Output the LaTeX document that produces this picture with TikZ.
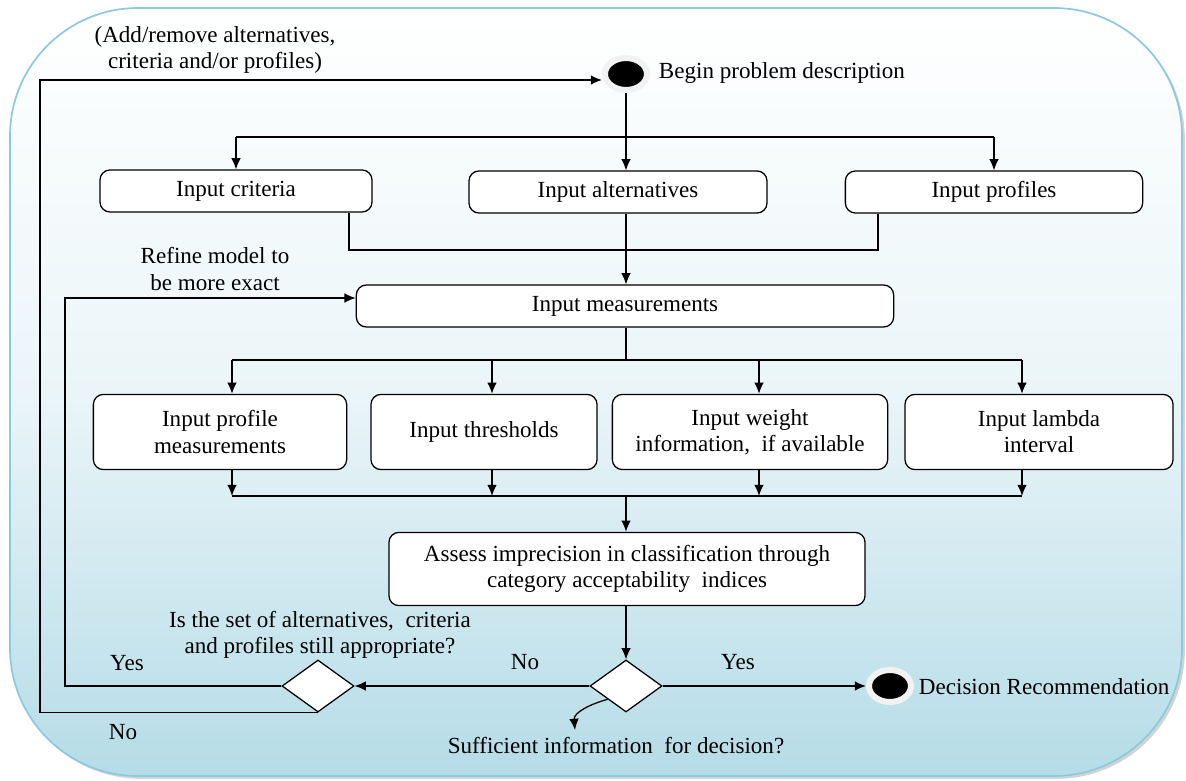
\documentclass[tikz,border=0pt]{standalone}
\usepackage{fontspec}
\setmainfont{Liberation Serif}
\newfontfamily\diagfont{Liberation Serif}
\usetikzlibrary{arrows.meta,shapes.geometric,shadows}
\definecolor{bgblue}{RGB}{181,220,231}
\definecolor{bgedge}{RGB}{140,200,222}

\begin{document}
\begin{tikzpicture}[x=0.025cm, y=-0.025cm, font=\diagfont\fontsize{16.4}{18.6}\selectfont]
	\tikzstyle{comp} = [
		rectangle, rounded corners=0.25cm, draw=black, line width=0.9pt, fill=white,
		align=center, minimum height=1.05cm
	]
	\tikzstyle{comp_tall} = [
		comp, minimum height=1.88cm
	]
	\tikzstyle{decision} = [
		diamond, draw=black, line width=0.9pt, fill=white,
		minimum width=1.8cm, minimum height=1.3cm, inner sep=0pt
	]
	\tikzstyle{terminal} = [
		ellipse, fill=black, draw=gray!10, line width=4.3pt,
		minimum width=1.05cm, minimum height=0.8cm, inner sep=0pt,
		drop shadow={shadow xshift=0.6pt, shadow yshift=-1.2pt, opacity=0.35}
	]
	\tikzstyle{caption} = [
		align=center
	]
	\tikzstyle{wire} = [
		line width=0.9pt
	]
	\tikzstyle{conn} = [
		wire, -{Latex[length=2.8mm, width=2.4mm]}
	]

	% Background
	\useasboundingbox (0,0) rectangle (1186,781);
	\draw[bgedge, line width=1.2pt, top color=white, bottom color=bgblue, middle color=bgblue!28,
		rounded corners=3.2cm, drop shadow={shadow xshift=2pt, shadow yshift=-2pt, opacity=0.35}]
		(10,8) rectangle (1182,776);

	% Start / end
	\node (begin) [terminal] at (626,74) {};
	\node (beginlbl) [anchor=west] at (654,73) {Begin problem description};
	\node (final) [terminal] at (890,686) {};
	\node (finallbl) [anchor=west] at (914,687) {Decision Recommendation};

	% First inputs
	\node (crit) [comp, minimum width=6.8cm]  at (236,191) {Input criteria};
	\node (alt)  [comp, minimum width=7.45cm] at (618,192) {Input alternatives};
	\node (prof) [comp, minimum width=7.43cm] at (994,192) {Input profiles};
	\node (meas) [comp, minimum width=13.43cm] at (625,306) {Input measurements};

	% Measurement inputs
	\node (pm)  [comp_tall, minimum width=6.33cm] at (220,432) {Input profile\\measurements};
	\node (thr) [comp_tall, minimum width=5.65cm] at (484,432) {Input thresholds};
	\node (wi)  [comp_tall, minimum width=6.88cm] at (750,432) {Input weight\\information,~ if available};
	\node (lam) [comp_tall, minimum width=6.7cm]  at (1039,432) {Input lambda\\interval};

	% Assessment and decisions
	\node (assess) [comp_tall, minimum width=11.9cm, minimum height=1.83cm] at (627,569)
		{Assess imprecision in classification through\\category acceptability~ indices};
	\node (dec2) [decision] at (626,686) {};
	\node (dec1) [decision] at (318,686) {};

	% Labels
	\node (addlbl)    [caption] at (215,50)  {(Add/remove alternatives,\\criteria and/or profiles)};
	\node (refinelbl) [caption] at (215,269) {Refine model to\\be more exact};
	\node (q1lbl)     [caption] at (320,635) {Is the set of alternatives,~ criteria\\and profiles still appropriate?};
	\node (q2lbl)               at (616,746) {Sufficient information~ for decision?};
	\node (yes1lbl) at (127,663) {Yes};
	\node (no1lbl)  at (123,732) {No};
	\node (yes2lbl) at (738,662) {Yes};
	\node (no2lbl)  at (525,662) {No};

	% Helper points
	\coordinate (split1) at (626,137);
	\coordinate (merge1) at (626,250);
	\coordinate (split2) at (626,360);
	\coordinate (merge2) at (626,496);
	\coordinate (critout) at (349,0);
	\coordinate (profout) at (878,0);
	\coordinate (col1) at (232,0);
	\coordinate (col2) at (492,0);
	\coordinate (col3) at (759,0);
	\coordinate (col4) at (1022,0);
	\coordinate (yesx) at (65,0);
	\coordinate (nox) at (40,0);
	\coordinate (q2end) at (575,730);

	% Begin -> first inputs
	\draw[wire] (begin) -- (split1);
	\draw[wire] (crit.north |- split1) -- (prof.north |- split1);
	\draw[conn] (crit.north |- split1) -- (crit.north);
	\draw[conn] (split1) -- (split1 |- alt.north);
	\draw[conn] (prof.north |- split1) -- (prof.north);

	% First inputs -> measurements
	\draw[wire] (crit.south -| critout) |- (merge1) -| (prof.south -| profout);
	\draw[conn] (alt.south -| merge1) -- (meas.north -| merge1);

	% Measurements -> inputs -> assessment
	\draw[wire] (meas.south -| split2) -- (split2);
	\draw[wire] (split2 -| col1) -- (split2 -| col4);
	\draw[wire] (merge2 -| col1) -- (merge2 -| col4);
	\foreach \n/\c in {pm/col1, thr/col2, wi/col3, lam/col4} {
		\draw[conn] (split2 -| \c) -- (\n.north -| \c);
		\draw[conn] (\n.south -| \c) -- (merge2 -| \c);
	}
	\draw[conn] (merge2) -- (assess.north -| merge2);
	\draw[conn] (assess.south -| merge2) -- (dec2.north);

	% Decisions
	\draw[conn] (dec2.east) -- (final.west);
	\draw[conn] (dec2.west) -- (dec1.east);
	\draw[conn] (dec2.south west) to[out=195, in=95] (q2end);
	\draw[conn] (dec1.west) -- (dec1.west -| yesx) |- ([yshift=0.2cm]meas.west);
	\draw[conn] (dec1.south) -- (dec1.south -| nox) |- ([yshift=-0.15cm]begin.west);

\end{tikzpicture}
\end{document}
